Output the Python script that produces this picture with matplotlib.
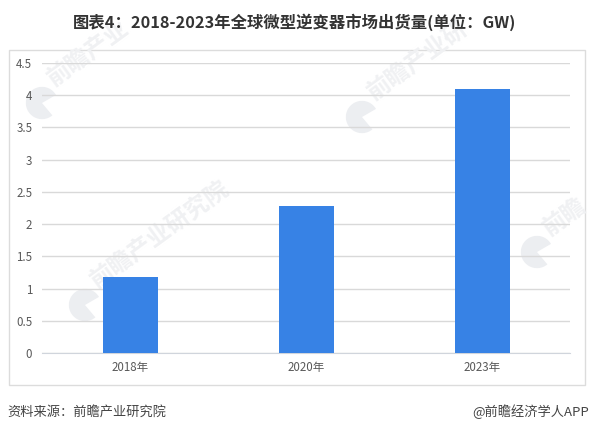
import matplotlib
matplotlib.use("Agg")
import matplotlib.pyplot as plt
from matplotlib.patches import Rectangle, Wedge

plt.rcParams['font.family'] = ['Noto Sans CJK SC', 'DejaVu Sans']

years = ["2018年", "2020年", "2023年"]
shipments = [1.18, 2.28, 4.1]
yticks = [0, 0.5, 1, 1.5, 2, 2.5, 3, 3.5, 4, 4.5]
ytick_labels = ["0", "0.5", "1", "1.5", "2", "2.5", "3", "3.5", "4", "4.5"]

W, H = 590, 433
fig = plt.figure(figsize=(W / 100, H / 100), dpi=100, facecolor="white")

# background layer in pixel coords, for the frame and the watermarks
bg = fig.add_axes([0, 0, 1, 1], zorder=0)
bg.set_xlim(0, W)
bg.set_ylim(H, 0)
bg.axis("off")
bg.add_patch(Rectangle((8.5, 49.5), 576, 335.5, fc="white", ec="#dcdcdc", lw=1))


def watermark(x, y, label, size=18):
    # logo is a round blob with a notch, text runs up to the right
    r = size * 0.95
    bg.add_patch(Wedge((x, y), r, 50, 330, fc="#eceef1", ec="none"))
    bg.text(x + size * 0.9, y - size * 0.7, label, fontsize=size, color="#f0f1f3",
            rotation=36, rotation_mode="anchor", ha="left", va="bottom", weight="bold")


watermark(42, 103, "前瞻产业", size=17)
watermark(362, 117, "前瞻产业研", size=17)
watermark(85, 305, "前瞻产业研究院", size=17)
watermark(537, 252, "前瞻", size=17)

# main chart, 0 sits at y=353 and 4.5 at y=63
ax = fig.add_axes([42 / W, 1 - 353 / H, (570 - 42) / W, (353 - 63) / H], zorder=1)
ax.patch.set_alpha(0)
x = range(len(years))
ax.bar(x, shipments, width=0.3125, color="#3782e5", zorder=3)
ax.set_xlim(-0.5, 2.5)
ax.set_ylim(0, 4.5)
ax.set_xticks(list(x))
ax.set_xticklabels(years)
ax.set_yticks(yticks)
ax.set_yticklabels(ytick_labels)
ax.tick_params(axis="both", length=0, labelsize=8.3, labelcolor="#595959")
ax.tick_params(axis="x", pad=6)
ax.tick_params(axis="y", pad=7)
ax.grid(axis="y", color="#d9d9d9", lw=1, zorder=1)
ax.set_axisbelow(True)
for s in ["top", "right", "left"]:
    ax.spines[s].set_visible(False)
ax.spines["bottom"].set_color("#d0d5dc")

fig.text(295 / W, 1 - 22 / H, "图表4：2018-2023年全球微型逆变器市场出货量(单位：GW)", fontsize=11.75,
         weight="bold", color="#333333", ha="center", va="center")
fig.text(7 / W, 1 - 412 / H, "资料来源：前瞻产业研究院", fontsize=9.5, color="#444444", ha="left", va="center")
fig.text(589 / W, 1 - 412 / H, "@前瞻经济学人APP", fontsize=9.5, color="#444444", ha="right", va="center")

fig.savefig("out.png", dpi=100)
